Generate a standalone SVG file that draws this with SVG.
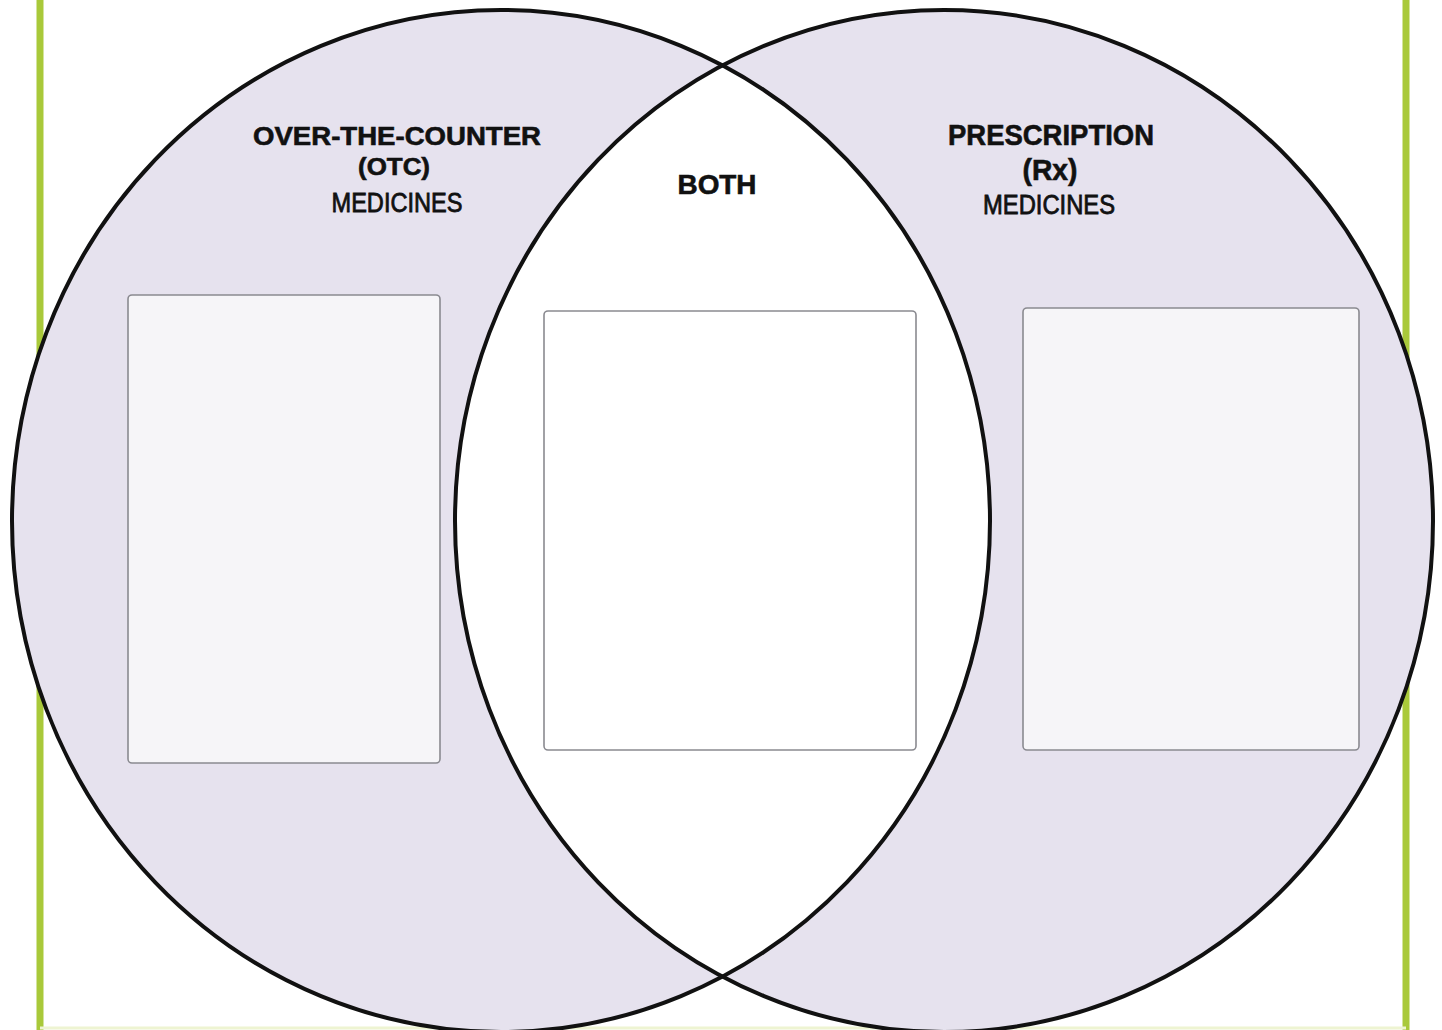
<svg xmlns="http://www.w3.org/2000/svg" width="1442" height="1030" viewBox="0 0 1442 1030">
  <style>
    .frame { stroke: #a9c93a; stroke-width: 7; fill: none; }
    .ring { fill: #e6e2ee; stroke: none; }
    .outline { fill: none; stroke: #111; stroke-width: 4; }
    .box { stroke: #8a8a90; stroke-width: 1.6; }
    .title { font-family: "Liberation Sans", Arial, sans-serif; font-weight: bold; fill: #111; text-anchor: middle; stroke: #111; stroke-width: 0.6; }
    .sub { font-family: "Liberation Sans", Arial, sans-serif; font-weight: normal; fill: #111; text-anchor: middle; stroke: #111; stroke-width: 0.8; }
  </style>
  <defs>
    <clipPath id="clipRight">
      <ellipse cx="944" cy="521" rx="489" ry="511"/>
    </clipPath>
  </defs>
  <rect x="0" y="0" width="1442" height="1030" fill="#ffffff"/>
  <g id="frame">
    <line class="frame" x1="40" y1="0" x2="40" y2="1030"/>
    <line class="frame" x1="1406" y1="0" x2="1406" y2="1030"/>
    <line x1="40" y1="1028" x2="1406" y2="1028" stroke="#eef4d2" stroke-width="3"/>
  </g>
  <g id="circle-otc">
    <ellipse class="ring" cx="501" cy="521" rx="489" ry="511"/>
  </g>
  <g id="circle-rx">
    <ellipse class="ring" cx="944" cy="521" rx="489" ry="511"/>
  </g>
  <g id="overlap-both">
    <ellipse cx="501" cy="521" rx="489" ry="511" fill="#ffffff" clip-path="url(#clipRight)"/>
  </g>
  <g id="outlines">
    <ellipse class="outline" cx="501" cy="521" rx="489" ry="511"/>
    <ellipse class="outline" cx="944" cy="521" rx="489" ry="511"/>
  </g>
  <g id="box-otc">
    <rect class="box" x="128" y="295" width="312" height="468" rx="4" fill="#f6f5f8"/>
  </g>
  <g id="box-both">
    <rect class="box" x="544" y="311" width="372" height="439" rx="4" fill="#ffffff"/>
  </g>
  <g id="box-rx">
    <rect class="box" x="1023" y="308" width="336" height="442" rx="4" fill="#f6f5f8"/>
  </g>
  <g id="label-otc">
    <text class="title" x="397" y="145" font-size="25" textLength="288" lengthAdjust="spacingAndGlyphs">OVER-THE-COUNTER</text>
    <text class="title" x="394" y="175" font-size="24" textLength="72" lengthAdjust="spacingAndGlyphs">(OTC)</text>
    <text class="sub" x="397" y="212" font-size="27" textLength="131" lengthAdjust="spacingAndGlyphs">MEDICINES</text>
  </g>
  <g id="label-both">
    <text class="title" x="717" y="194" font-size="28" textLength="79" lengthAdjust="spacingAndGlyphs">BOTH</text>
  </g>
  <g id="label-rx">
    <text class="title" x="1051" y="145" font-size="30" textLength="206" lengthAdjust="spacingAndGlyphs">PRESCRIPTION</text>
    <text class="title" x="1050" y="180" font-size="30" textLength="55" lengthAdjust="spacingAndGlyphs">(Rx)</text>
    <text class="sub" x="1049" y="214" font-size="27" textLength="132" lengthAdjust="spacingAndGlyphs">MEDICINES</text>
  </g>
</svg>
